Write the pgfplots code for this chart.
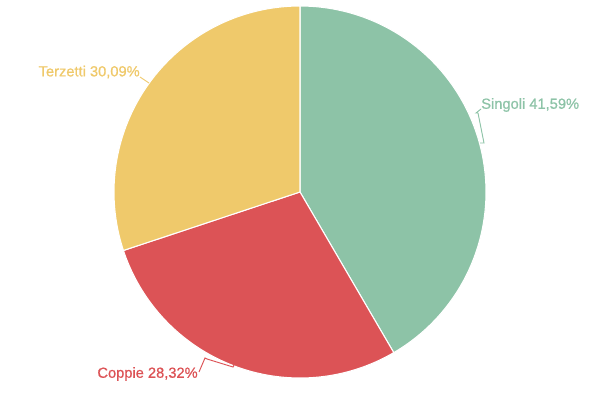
\documentclass[border=0pt]{standalone}
\usepackage{fontspec}
\setmainfont{Liberation Sans}
\newfontfamily\labfont[FakeBold=0.8]{Liberation Sans}
\usepackage{pgfplots}
\usepackage{pgfplotstable}
\pgfplotsset{compat=1.18}
\definecolor{cGreen}{RGB}{141,195,167}
\definecolor{cRed}{RGB}{220,83,86}
\definecolor{cYellow}{RGB}{239,201,107}

\pgfplotstableread{
label value
Singoli 41.59
Coppie 28.32
Terzetti 30.09
}\piedata
\pgfplotstablegetelem{0}{value}\of\piedata \let\vA\pgfplotsretval
\pgfplotstablegetelem{1}{value}\of\piedata \let\vB\pgfplotsretval
\pgfplotstablegetelem{2}{value}\of\piedata \let\vC\pgfplotsretval
% angles, clockwise from the top
\pgfmathsetmacro{\aA}{90-3.6*\vA}
\pgfmathsetmacro{\aB}{\aA-3.6*\vB}
\pgfmathsetmacro{\aC}{\aB-3.6*\vC}

\begin{document}
\begin{tikzpicture}
  \begin{axis}[
    width=450pt, height=300pt, scale only axis,
    xmin=0, xmax=600, ymin=0, ymax=400,
    hide axis, clip=false,
  ]
    \coordinate (sw) at (axis cs:0,0);
    \coordinate (ne) at (axis cs:600,400);

    \addplot[fill=cGreen, draw=white, line width=0.8pt, domain=\aA:90, samples=120, variable=\t]
      ({300+186*cos(\t)},{208+186*sin(\t)}) -- (axis cs:300,208) -- cycle;
    \addplot[fill=cRed, draw=white, line width=0.8pt, domain=\aB:\aA, samples=120, variable=\t]
      ({300+186*cos(\t)},{208+186*sin(\t)}) -- (axis cs:300,208) -- cycle;
    \addplot[fill=cYellow, draw=white, line width=0.8pt, domain=\aC:\aB, samples=120, variable=\t]
      ({300+186*cos(\t)},{208+186*sin(\t)}) -- (axis cs:300,208) -- cycle;

    % leader lines
    \addplot[cGreen, line width=0.7pt] coordinates {(481,291) (476,287) (478,287) (484,257) (480,257)};
    \addplot[cYellow, line width=0.7pt] coordinates {(140,323) (149,317)};
    \addplot[cRed, line width=0.7pt] coordinates {(199,28) (205,42) (207,41) (233,33) (234,35)};

    \tikzset{lab/.style={inner sep=0pt, font=\labfont\fontsize{11}{13}\selectfont}}
    \node[lab, anchor=west, text=cGreen] at (axis cs:481,295) {Singoli 41,59\%};
    \node[lab, anchor=east, text=cYellow] at (axis cs:140,328) {Terzetti 30,09\%};
    \node[lab, anchor=east, text=cRed] at (axis cs:198,26) {Coppie 28,32\%};
  \end{axis}
  \pgfresetboundingbox
  \path (sw) rectangle (ne);
\end{tikzpicture}
\end{document}
